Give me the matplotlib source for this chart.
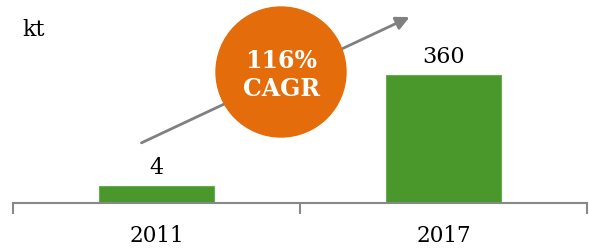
import matplotlib.pyplot as plt
from matplotlib.patches import Circle

# data
years = ["2011", "2017"]
volumes = [4, 360]
unit = "kt"
cagr_text = "116%\nCAGR"

green = "#4A972B"
orange = "#E46C0A"
grey = "#888888"
font = "DejaVu Serif"

fig = plt.figure(figsize=(5.89, 2.48), dpi=100)
ax = fig.add_axes([13/589, 45/248, 574/589, 203/248])

x = list(range(len(years)))
bars = ax.bar(x, volumes, width=0.4, color=green, edgecolor="#6aaa55", linewidth=0.8)
ax.set_yscale("log")
ax.set_ylim(2, 7500)
ax.set_xlim(-0.5, len(years) - 0.5)
ax.bar_label(bars, labels=[str(v) for v in volumes], padding=5,
             fontsize=16, family=font, color="black")

for s in ["top", "right", "left"]:
    ax.spines[s].set_visible(False)
ax.spines["bottom"].set_color(grey)
ax.spines["bottom"].set_linewidth(1.5)
ax.yaxis.set_visible(False)

ax.set_xticks(x)
ax.set_xticklabels(years, fontsize=15.5, family=font)
ax.tick_params(axis="x", which="major", length=0, pad=16)
ax.set_xticks([i - 0.5 for i in range(len(years) + 1)], minor=True)
ax.tick_params(axis="x", which="minor", length=8, width=1.5, color=grey)

# overlay in pixel units for the annotation
ov = fig.add_axes([0, 0, 1, 1])
ov.set_xlim(0, 589)
ov.set_ylim(248, 0)
ov.axis("off")
ov.patch.set_alpha(0)

ov.annotate("", xy=(412, 16), xytext=(139, 144),
            arrowprops=dict(arrowstyle="-|>,head_length=0.8,head_width=0.4",
                            color="#808080", lw=2))
ov.add_patch(Circle((281, 72), 65, color=orange, zorder=3))
ov.text(281, 75, cagr_text, ha="center", va="center", color="white",
        fontsize=17, fontweight="bold", family=font, linespacing=1.2, zorder=4)

ov.text(22, 30, unit, ha="left", va="center", fontsize=16, family=font)

fig.savefig("out.png", dpi=100)
